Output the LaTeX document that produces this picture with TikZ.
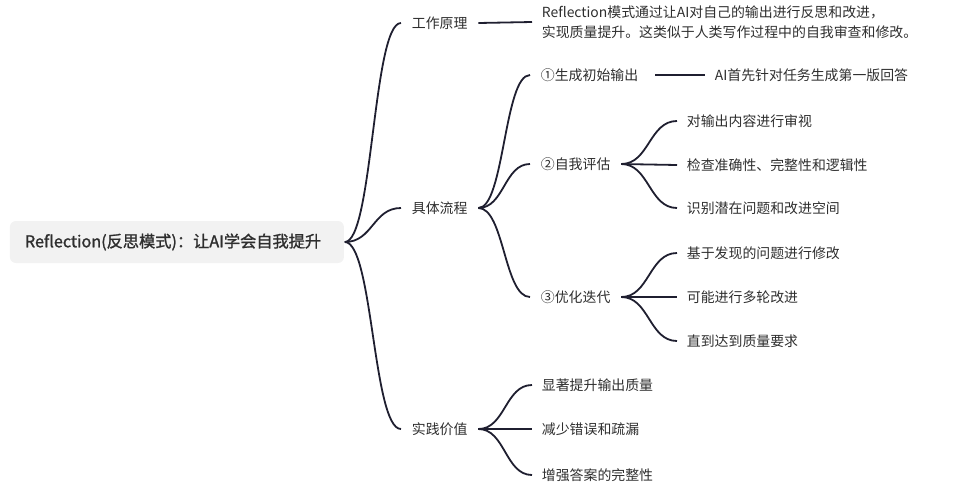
\documentclass[tikz,border=0pt]{standalone}
\usepackage{fontspec}
\setmainfont{Noto Sans CJK SC}
\newfontfamily\rootfont{Noto Sans CJK SC}[FakeBold=1.3]
\usepackage{tikz}
\usetikzlibrary{positioning,calc}

\definecolor{linecol}{HTML}{1F1F30}
\definecolor{textcol}{HTML}{2E2E2E}
\definecolor{rootfill}{HTML}{F2F2F2}

\begin{document}
\begin{tikzpicture}[x=1pt, y=-1pt, line width=1.8pt, draw=linecol, text=textcol]
\tikzstyle{every node}=[inner ysep=2pt, font=\fontsize{13.9pt}{19.5pt}\selectfont]
\tikzstyle{topic}=[anchor=west, inner xsep=10pt]
\tikzstyle{leaf}=[anchor=west, inner xsep=9pt]
\tikzstyle{rootbox}=[anchor=west, fill=rootfill, rounded corners=6pt, text width=304pt, inner xsep=15pt, minimum height=42pt, font=\fontsize{16.2pt}{20pt}\rootfont]
\tikzstyle{branch}=[to path={.. controls ($(\tikztostart)!0.5!(\tikztostart -| \tikztotarget)$) and ($(\tikztotarget)!0.5!(\tikztotarget -| \tikztostart)$) .. (\tikztotarget)}]
\useasboundingbox (0,0) rectangle (966,488);
% root
\node[rootbox]  (root)  at (9,242)   {Reflection(反思模式)：让AI学会自我提升};
% first level
\node[topic]    (work)  at (401,23)  {工作原理};
\node[topic]    (flow)  at (401,208) {具体流程};
\node[topic]    (value) at (401,429) {实践价值};
\node[leaf, align=left] (desc) at (532,22) {Reflection模式通过让AI对自己的输出进行反思和改进，\\实现质量提升。这类似于人类写作过程中的自我审查和修改。};
% steps
\node[topic]    (s1)    at (530,75)  {①生成初始输出};
\node[topic]    (s2)    at (530,164) {②自我评估};
\node[topic]    (s3)    at (530,297) {③优化迭代};
\node[leaf]     (s1d)   at (705,75)  {AI首先针对任务生成第一版回答};
\node[leaf]     (s2a)   at (677,121) {对输出内容进行审视};
\node[leaf]     (s2b)   at (677,165) {检查准确性、完整性和逻辑性};
\node[leaf]     (s2c)   at (677,208) {识别潜在问题和改进空间};
\node[leaf]     (s3a)   at (677,253) {基于发现的问题进行修改};
\node[leaf]     (s3b)   at (677,297) {可能进行多轮改进};
\node[leaf]     (s3c)   at (677,341) {直到达到质量要求};
% values
\node[leaf]     (v1)    at (532,385) {显著提升输出质量};
\node[leaf]     (v2)    at (532,429) {减少错误和疏漏};
\node[leaf]     (v3)    at (532,475) {增强答案的完整性};
\path
(root.east) edge[branch] (work.west)
            edge[branch] (flow.west)
            edge[branch] (value.west)
(work.east) edge (desc.west)
(flow.east) edge[branch] (s1.west)
            edge[branch] (s2.west)
            edge[branch] (s3.west)
(s1.east)   edge[shorten <=6pt] (s1d.west)
(value.east) edge[branch] (v1.west)
             edge[branch] (v2.west)
             edge[branch] (v3.west);
\foreach \c in {s2a,s2b,s2c} \path (s2.east) edge[branch] (\c.west);
\foreach \c in {s3a,s3b,s3c} \path (s3.east) edge[branch] (\c.west);
\end{tikzpicture}
\end{document}
